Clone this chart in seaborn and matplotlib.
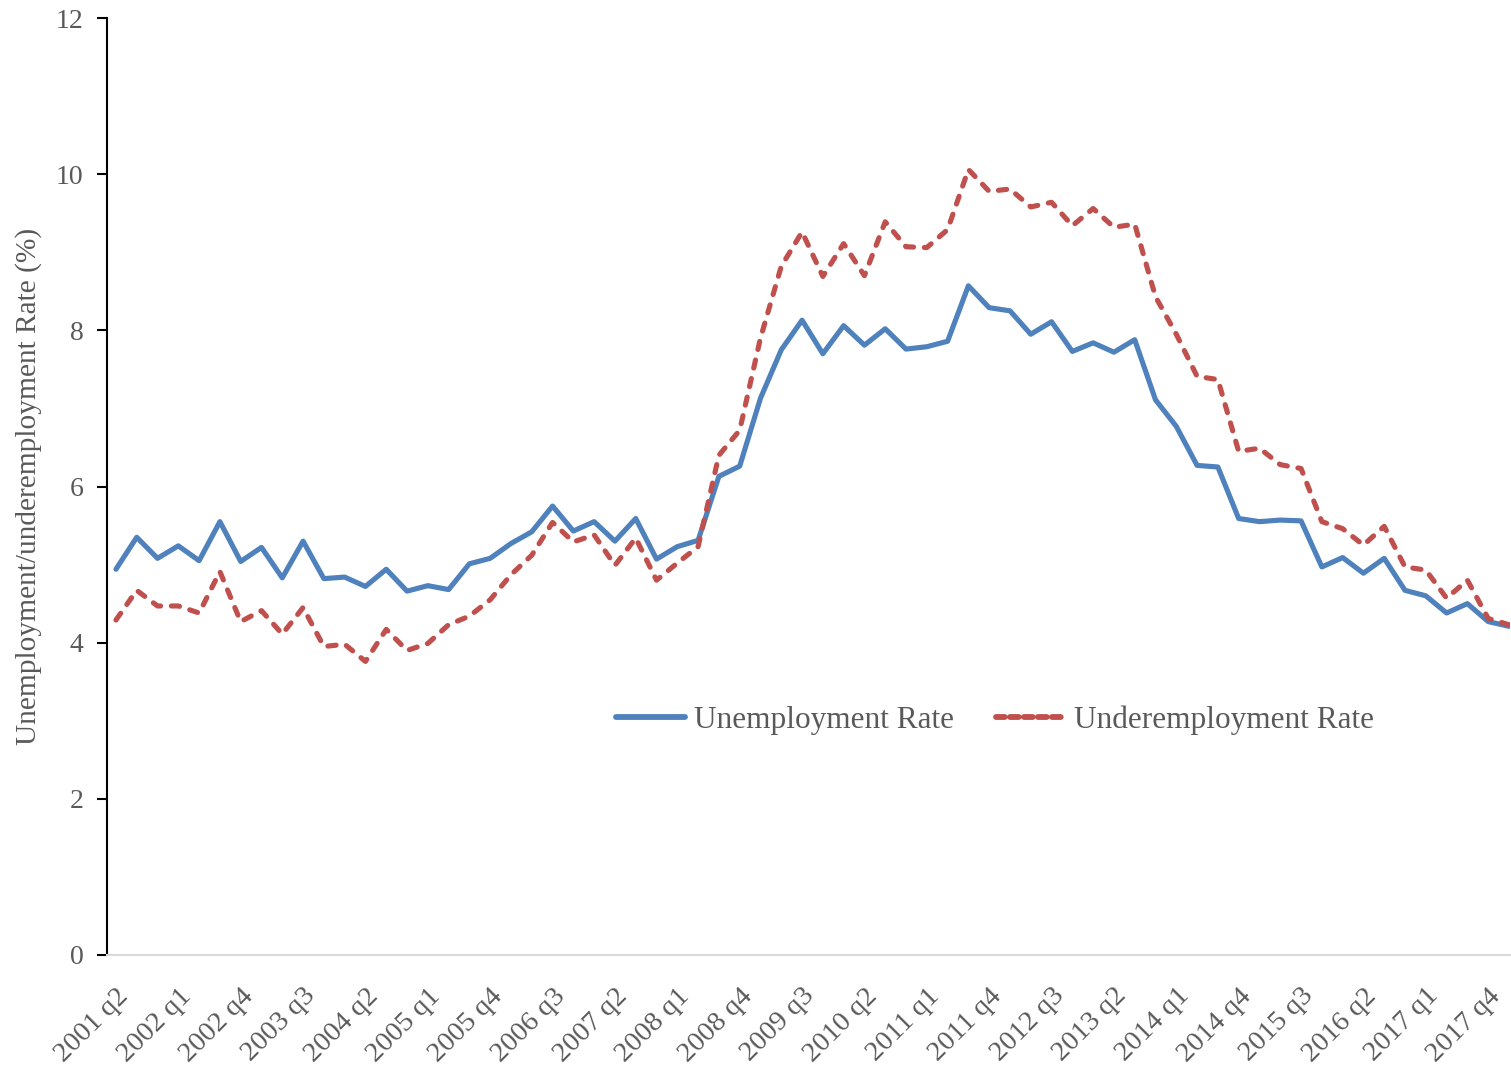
import numpy as np
import pandas as pd
import matplotlib
matplotlib.use("Agg")
import matplotlib.pyplot as plt
import seaborn as sns

# ---- data ----
quarters = [f"{y} q{q}" for y in range(2001, 2019) for q in range(1, 5)]
quarters = quarters[1:quarters.index("2018 q1") + 1]  # 2001 q2 .. 2018 q1

unemployment = [
    4.94, 5.35, 5.08, 5.24, 5.05, 5.55, 5.04, 5.22, 4.83, 5.30,
    4.82, 4.84, 4.72, 4.94, 4.66, 4.73, 4.68, 5.01, 5.08, 5.27,
    5.42, 5.75, 5.43, 5.55, 5.30, 5.59, 5.07, 5.23, 5.31, 6.13,
    6.26, 7.13, 7.75, 8.13, 7.70, 8.06, 7.81, 8.02, 7.76, 7.79,
    7.86, 8.57, 8.29, 8.25, 7.95, 8.11, 7.73, 7.84, 7.72, 7.88,
    7.11, 6.77, 6.27, 6.25, 5.59, 5.55, 5.57, 5.56, 4.97, 5.09,
    4.89, 5.08, 4.67, 4.60, 4.38, 4.50, 4.27, 4.21,
]
underemployment = [
    4.29, 4.67, 4.47, 4.47, 4.38, 4.91, 4.27, 4.41, 4.11, 4.45,
    3.95, 3.98, 3.76, 4.17, 3.90, 3.99, 4.23, 4.34, 4.55, 4.87,
    5.12, 5.54, 5.29, 5.38, 4.99, 5.34, 4.80, 5.02, 5.23, 6.40,
    6.72, 7.90, 8.82, 9.26, 8.69, 9.11, 8.70, 9.39, 9.07, 9.06,
    9.29, 10.06, 9.78, 9.81, 9.58, 9.64, 9.34, 9.56, 9.32, 9.36,
    8.43, 7.95, 7.41, 7.37, 6.45, 6.49, 6.28, 6.23, 5.55, 5.46,
    5.25, 5.49, 4.97, 4.93, 4.57, 4.80, 4.31, 4.23,
]
series_names = ["Unemployment Rate", "Underemployment Rate"]
y_ticks = [0, 2, 4, 6, 8, 10, 12]

df = pd.DataFrame({
    "idx": np.arange(len(quarters)),
    "quarter": quarters,
    series_names[0]: unemployment,
    series_names[1]: underemployment,
})

# ---- style ----
sns.set_style("white")
plt.rcParams["font.family"] = ["Liberation Serif", "DejaVu Serif"]

fig = plt.figure(figsize=(15.11, 10.65), dpi=100)
ax = fig.add_axes([107 / 1511, 110 / 1065, (1510 - 107) / 1511, (955 - 18) / 1065])

blue = "#4F81BD"
red = "#C0504D"
sns.lineplot(data=df, x="idx", y=series_names[0], ax=ax, color=blue,
             linewidth=3.7, label=series_names[0], solid_capstyle="round")
sns.lineplot(data=df, x="idx", y=series_names[1], ax=ax, color=red,
             linewidth=3.7, label=series_names[1])
ax.lines[1].set_dashes((1.6, 2.1))
ax.lines[1].set_dash_capstyle("round")

ax.set_xlim(-0.43, 67.05)
ax.set_ylim(0, 12)
ax.set_yticks(y_ticks)
ax.set_yticklabels([str(v) for v in y_ticks])
tick_idx = list(range(0, len(quarters), 3))
ax.set_xticks(tick_idx)
ax.set_xticklabels([quarters[i] for i in tick_idx], rotation=45, ha="right",
                   rotation_mode="anchor")

grey = "#595959"
ax.tick_params(axis="y", which="both", left=True, direction="out", length=7,
               width=1.5, color="black", labelsize=20, labelcolor=grey, pad=10)
ax.tick_params(axis="x", bottom=False, labelsize=20.5, labelcolor=grey, pad=17)

for s in ["top", "right"]:
    ax.spines[s].set_visible(False)
ax.spines["left"].set_color("black")
ax.spines["left"].set_linewidth(1.5)
ax.spines["bottom"].set_color("#D9D9D9")
ax.spines["bottom"].set_linewidth(1.5)

ax.set_xlabel("")
ax.set_ylabel("Unemployment/underemployment Rate (%)", fontsize=21.2, color=grey,
              labelpad=10)
ax.grid(False)

leg = ax.legend(loc="center", bbox_to_anchor=(0.633, 0.251), ncol=2,
                frameon=False, fontsize=22.5, handlelength=2.2,
                columnspacing=1.35, handletextpad=0.3)
for t in leg.get_texts():
    t.set_color(grey)
for h in leg.get_lines():
    h.set_linewidth(4.2)
leg.get_lines()[1].set_dashes((1.5, 0.9))
leg.get_lines()[1].set_dash_capstyle("round")
leg.get_lines()[0].set_solid_capstyle("round")

fig.savefig("out.png", dpi=100)
